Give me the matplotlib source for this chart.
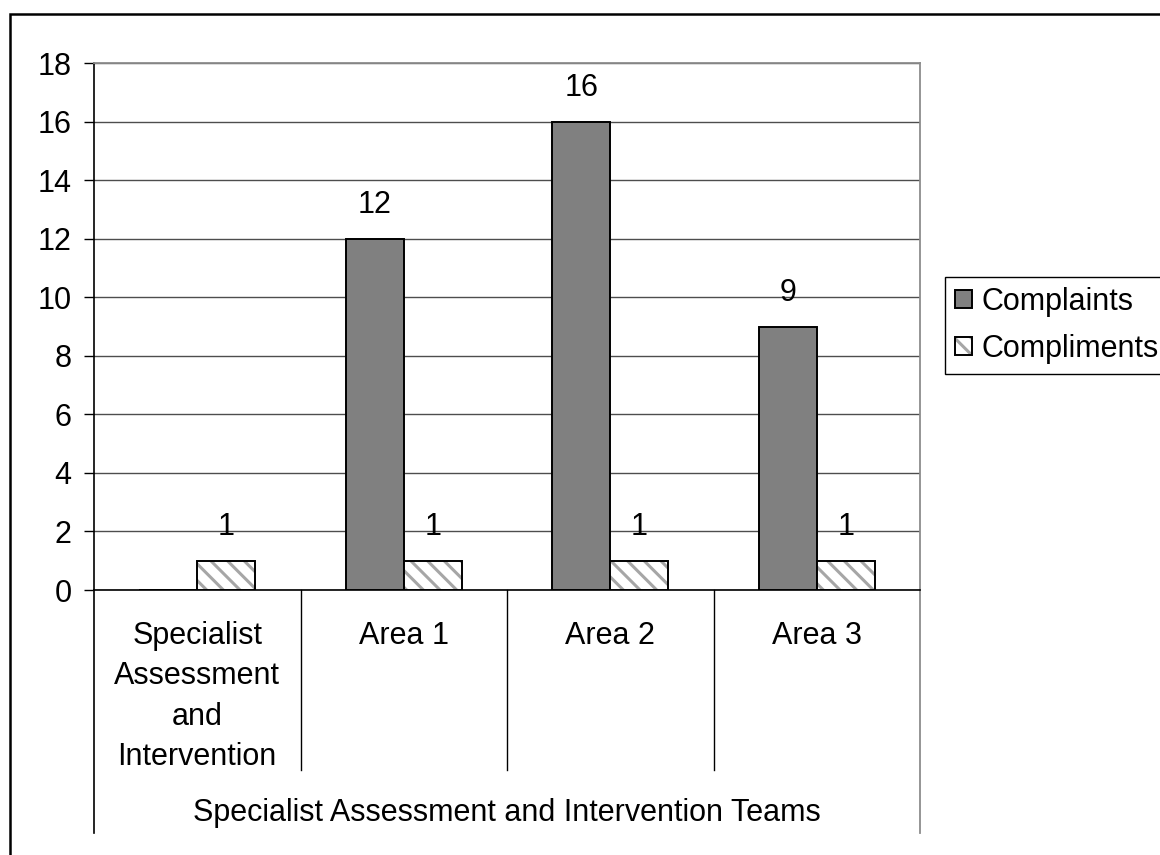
import numpy as np
import matplotlib
matplotlib.use("Agg")
import matplotlib.pyplot as plt
from matplotlib.patches import Rectangle
from matplotlib.legend_handler import HandlerTuple

plt.rcParams['font.family'] = ['Liberation Sans', 'DejaVu Sans']
plt.rcParams['hatch.linewidth'] = 2.2

categories = ["Specialist\nAssessment\nand\nIntervention", "Area 1", "Area 2", "Area 3"]
group_label = "Specialist Assessment and Intervention Teams"
complaints = [0, 12, 16, 9]
compliments = [1, 1, 1, 1]
series_names = ["Complaints", "Compliments"]
yticks = list(range(0, 19, 2))

FS = 22
W, H = 1160, 855
fig = plt.figure(figsize=(W / 100, H / 100), dpi=100)

# outer chart frame (runs off the right and bottom edges)
fig.patches.append(Rectangle((10 / W, 1 - 855 / H - 0.05), 1.2, (855 - 14) / H + 0.05,
                             transform=fig.transFigure, fill=False,
                             edgecolor='black', linewidth=1.8, zorder=0))

ax = fig.add_axes([94 / W, 1 - 590 / H, (920 - 94) / W, (590 - 63) / H])
x = np.arange(len(categories))
bw = 0.281

ax.bar(x - bw / 2, complaints, bw, color='#808080', edgecolor='black',
       linewidth=1.4, zorder=3)
# hatched compliments: grey stripes, then black outline on top
ax.bar(x + bw / 2, compliments, bw, color='white', edgecolor='#a6a6a6',
       hatch='\\\\', linewidth=0, zorder=3)
ax.bar(x + bw / 2, compliments, bw, fill=False, edgecolor='black',
       linewidth=1.4, zorder=4)

for xi, v in zip(x, complaints):
    if v:
        ax.annotate(str(v), (xi - bw / 2, v), xytext=(0, 19), textcoords='offset pixels',
                    ha='center', va='bottom', fontsize=FS)
for xi, v in zip(x, compliments):
    ax.annotate(str(v), (xi + bw / 2, v), xytext=(0, 19), textcoords='offset pixels',
                ha='center', va='bottom', fontsize=FS)

ax.set_xlim(-0.5, len(categories) - 0.5)
ax.set_ylim(0, 18)
ax.set_yticks(yticks)
ax.tick_params(axis='y', length=7.2, width=1, pad=9, labelsize=FS, color='black')
ax.set_xticks([])
ax.yaxis.grid(True, color='#4d4d4d', linewidth=1)
ax.set_axisbelow(True)

for side in ('top', 'right'):
    ax.spines[side].set_color('#8c8c8c')
    ax.spines[side].set_linewidth(1.3)
ax.spines['left'].set_color('black')
ax.spines['bottom'].set_color('black')
ax.spines['left'].set_linewidth(1.2)
ax.spines['bottom'].set_linewidth(1.2)

# multi-level category axis
tr = ax.get_xaxis_transform()
inner_bottom = -(770 - 590) / (590 - 63)
outer_bottom = -(833 - 590) / (590 - 63)
for b in np.arange(0.5, len(categories) - 1, 1.0):
    ax.plot([b, b], [0, inner_bottom], transform=tr, color='black', lw=1, clip_on=False)
ax.plot([-0.5, -0.5], [0, outer_bottom], transform=tr, color='black', lw=1.2, clip_on=False)
ax.plot([len(categories) - 0.5] * 2, [0, outer_bottom], transform=tr,
        color='#8c8c8c', lw=1.3, clip_on=False)

cat_top = -(621 - 590) / (590 - 63)
for xi, lab in zip(x, categories):
    ax.text(xi, cat_top, lab, transform=tr, ha='center', va='top',
            fontsize=FS, linespacing=1.45)
ax.text(0.5, -(821 - 590) / (590 - 63), group_label, transform=ax.transAxes,
        ha='center', va='baseline', fontsize=FS)

# legend
h1 = Rectangle((0, 0), 1, 1, facecolor='#808080', edgecolor='black', linewidth=1.4)
h2a = Rectangle((0, 0), 1, 1, facecolor='white', edgecolor='#a6a6a6', hatch='\\\\', linewidth=0)
h2b = Rectangle((0, 0), 1, 1, fill=False, edgecolor='black', linewidth=1.4)
leg = fig.legend([h1, (h2a, h2b)], series_names,
                 handler_map={tuple: HandlerTuple(ndivide=1, pad=0)},
                 loc='upper left', bbox_to_anchor=(945 / W, 1 - 277 / H),
                 fontsize=FS, frameon=True, fancybox=False, edgecolor='black',
                 framealpha=1, borderpad=0.33, labelspacing=0.55,
                 handlelength=0.55, handleheight=0.55, handletextpad=0.3,
                 borderaxespad=0)
leg.get_frame().set_linewidth(1.0)

fig.savefig("out.png", dpi=100)
